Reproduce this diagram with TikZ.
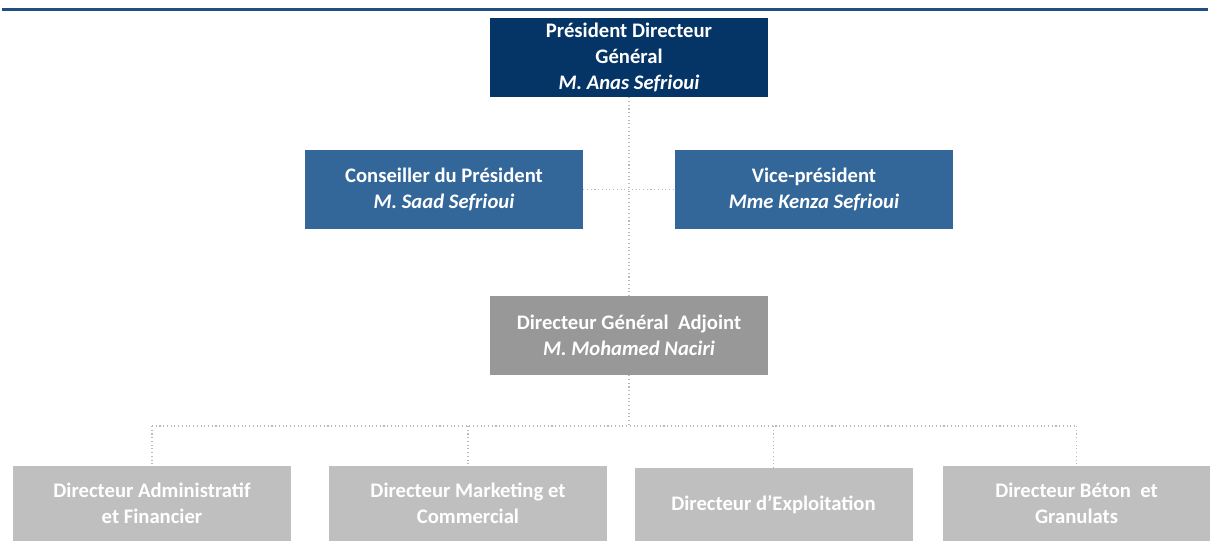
\documentclass[tikz,border=0pt]{standalone}
\usepackage{fontspec}
\setmainfont{Carlito}
\definecolor{navy}{HTML}{053466}
\definecolor{midblue}{HTML}{336699}
\definecolor{darkgrey}{HTML}{989898}
\definecolor{lightgrey}{HTML}{BFBFBF}
\definecolor{rule}{HTML}{1F4E83}
\tikzset{
  post/.style={minimum width=208.5pt, minimum height=59.25pt, inner sep=0pt,
    text=white, align=center, font=\fontsize{15.5}{19.5}\selectfont\bfseries},
  link/.style={dotted, line width=0.8pt, gray!55}
}
\begin{document}
\begin{tikzpicture}[x=0.75pt,y=-0.75pt]
  \useasboundingbox (0,0) rectangle (1210,541);
  \draw[rule, line width=2.4pt] (2,9.5) -- (1208,9.5);
  % direction
  \node[post, fill=navy] (pdg) at (629,57.5) {Président Directeur\\Général\\\textit{M. Anas Sefrioui}};
  \node[post, fill=midblue] (cons) at (444,189.5) {Conseiller du Président\\\textit{M. Saad Sefrioui}};
  \node[post, fill=midblue] (vp) at (814,189.5) {Vice-président\\\textit{Mme Kenza Sefrioui}};
  \node[post, fill=darkgrey] (dga) at (629,335.5) {Directeur Général\ \ Adjoint\\\textit{M. Mohamed Naciri}};
  % directions
  \node[post, fill=lightgrey, minimum height=56.25pt] (daf) at (152,503.5) {Directeur Administratif\\et Financier};
  \node[post, fill=lightgrey, minimum height=56.25pt] (dmc) at (468,503.5) {Directeur Marketing et\\Commercial};
  \node[post, fill=lightgrey, minimum height=54.75pt] (dex) at (773.5,504.5) {Directeur d’Exploitation};
  \node[post, fill=lightgrey, minimum height=56.25pt, minimum width=200.25pt] (dbg) at (1076.5,503.5) {Directeur Béton\ \ et\\Granulats};
  \coordinate (bus) at (629,426);
  \draw[link] (pdg) -- (dga);
  \draw[link] (cons) -- (vp);
  \draw[link] (dga) -- (bus);
  \draw[link] (daf.north |- bus) -- (dbg.north |- bus);
  \foreach \n in {daf,dmc,dex,dbg}
    \draw[link] (\n.north |- bus) -- (\n.north);
\end{tikzpicture}
\end{document}
